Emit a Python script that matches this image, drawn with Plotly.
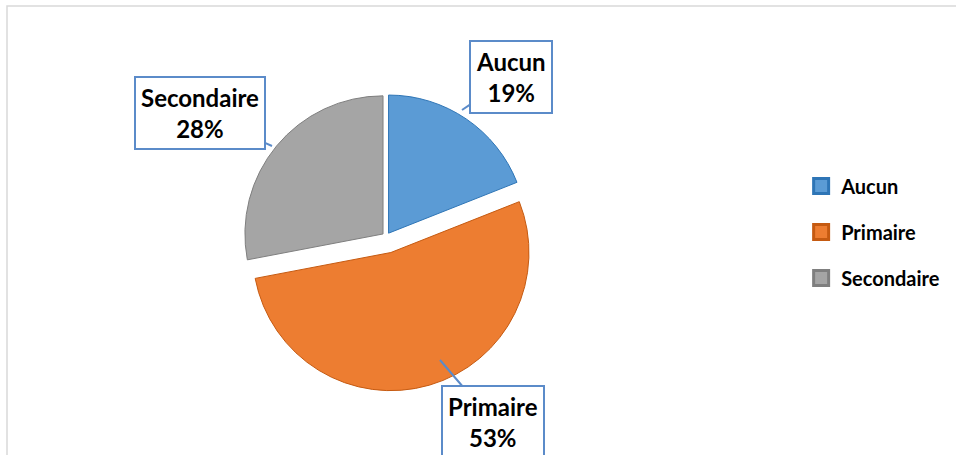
import plotly.graph_objects as go

labels = ["Aucun", "Primaire", "Secondaire"]
values = [19, 53, 28]
fill_colors = ["#5B9BD5", "#ED7D31", "#A5A5A5"]
edge_colors = ["#2E75B6", "#C55A11", "#7F7F7F"]
pulls = [0.03, 0.12, 0.03]

W, H = 956, 455
FONT = "Lato, Open Sans, sans-serif"

fig = go.Figure()
fig.add_trace(go.Pie(
    labels=labels, values=values, sort=False, direction="clockwise", rotation=0,
    pull=pulls, textinfo="none", hoverinfo="label+percent", showlegend=False,
    marker=dict(colors=fill_colors, line=dict(color=edge_colors, width=1)),
    domain=dict(x=[0.234, 0.574], y=[0.14, 0.82]),
))

# Legend entries
for lab, fc, ec in zip(labels, fill_colors, edge_colors):
    fig.add_trace(go.Scatter(
        x=[None], y=[None], mode="markers", name=f"<b>{lab}</b>", legendgroup=lab,
        marker=dict(symbol="square", size=15, color=fc, line=dict(color=ec, width=3)),
    ))

def px(x, y):
    return x / W, 1 - y / H

callouts = [
    # label, tip (px), box offset (ax, ay)
    ("Aucun", (462, 110), (49, -33)),
    ("Secondaire", (272, 146), (-72, -33)),
    ("Primaire", (440, 360), (53, 62)),
]
for lab, (tx, ty), (ax, ay) in callouts:
    i = labels.index(lab)
    pct = round(100 * values[i] / sum(values))
    xx, yy = px(tx, ty)
    fig.add_annotation(
        x=xx, y=yy, xref="paper", yref="paper", ax=ax, ay=ay,
        text=f"<b>{lab}<br>{pct}%</b>", showarrow=True, arrowhead=0,
        arrowcolor="#5B8BC9", arrowwidth=2,
        font=dict(family=FONT, size=24, color="#000000"),
        bgcolor="#FFFFFF", bordercolor="#5B8BC9", borderwidth=2, borderpad=5,
        align="center",
    )

fig.add_shape(type="rect", xref="paper", yref="paper",
              x0=7 / W, x1=1.1, y0=-0.1, y1=1 - 6 / H,
              line=dict(color="#D9D9D9", width=1.5))

fig.update_layout(
    width=W, height=H, margin=dict(l=0, r=0, t=0, b=0),
    paper_bgcolor="white", plot_bgcolor="white",
    xaxis=dict(visible=False), yaxis=dict(visible=False),
    legend=dict(x=0.838, y=0.49, xanchor="left", yanchor="middle",
                font=dict(family=FONT, size=20, color="#000000"),
                tracegroupgap=17, itemwidth=30, bgcolor="rgba(0,0,0,0)"),
    font=dict(family=FONT),
)
fig.write_html("out.html", config={"displayModeBar": False},
               post_script="document.body.style.margin='0';document.body.style.overflow='hidden';")
